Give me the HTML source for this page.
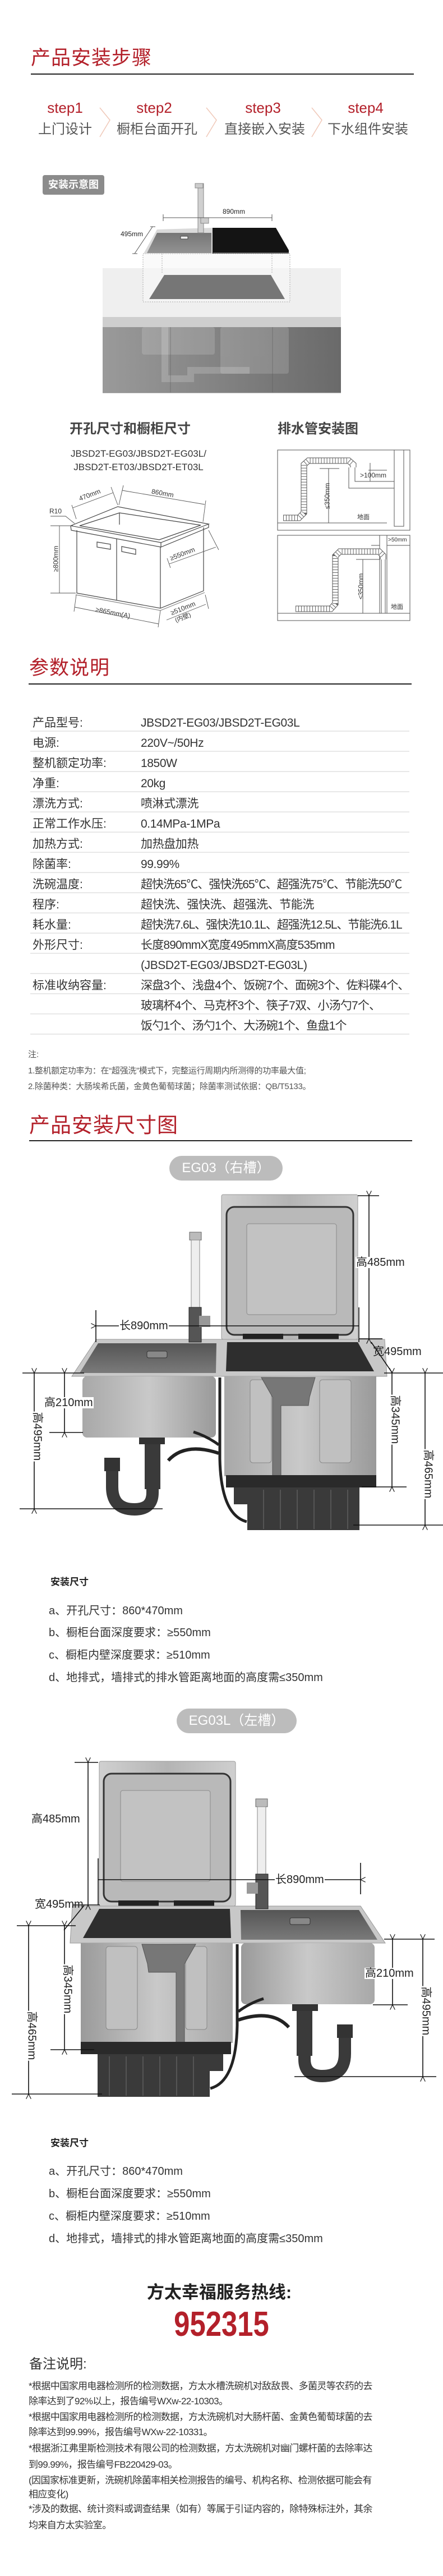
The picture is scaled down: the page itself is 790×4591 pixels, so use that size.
<!DOCTYPE html>
<html><head><meta charset="utf-8">
<style>
*{margin:0;padding:0;box-sizing:border-box}
body{width:790px;height:4591px;position:relative;background:#fff;font-family:"Liberation Sans","Noto Sans CJK SC",sans-serif;color:#333;overflow:hidden}
.t{position:absolute;white-space:nowrap;line-height:1}
.red{color:#b3202a}
.h1{font-size:35px;color:#b3202a;letter-spacing:1px}
.hr{position:absolute;height:1.5px;background:#222}
.c{transform:translateX(-50%)}
.step{font-size:26px;color:#b3202a}
.stepl{font-size:24px;color:#555}
.lab{font-size:21px;color:#333;left:58px}
.val{font-size:21px;color:#333;left:251px;letter-spacing:-0.4px}
.sep{position:absolute;left:54px;width:676px;height:2px;background:#e8e8e8}
.dim{font-size:20px;color:#222;background:#fff;padding:0 1px}
.dimn{font-size:20px;color:#222}
.inst{font-size:20px;color:#333;left:87px}
.note{font-size:17px;color:#333;left:51px;letter-spacing:-0.6px}
</style></head><body>

<svg width="790" height="4591" style="position:absolute;left:0;top:0">
<defs>
<linearGradient id="cab" x1="0" x2="1"><stop offset="0" stop-color="#9a9a9a"/><stop offset="1" stop-color="#6a6a6a"/></linearGradient>
<linearGradient id="lid" x1="0" x2="1"><stop offset="0" stop-color="#cfcfcf"/><stop offset="0.5" stop-color="#b4b4b4"/><stop offset="1" stop-color="#d0d0d0"/></linearGradient>
<linearGradient id="steel" x1="0" x2="1"><stop offset="0" stop-color="#a8a8a8"/><stop offset="0.5" stop-color="#c9c9c9"/><stop offset="1" stop-color="#9a9a9a"/></linearGradient>
<linearGradient id="basin" x1="0" y1="0" x2="0" y2="1"><stop offset="0" stop-color="#555"/><stop offset="1" stop-color="#7a7a7a"/></linearGradient>
<marker id="ar" viewBox="0 0 10 10" refX="0" refY="5" markerWidth="9" markerHeight="9" orient="auto-start-reverse" markerUnits="userSpaceOnUse"><path d="M10,0 L0,5 L10,10" fill="none" stroke="#111" stroke-width="1.3"/></marker>
<g id="prod">
  <!-- lid -->
  <rect x="395" y="2129" width="243" height="258" rx="3" fill="url(#lid)" stroke="#999"/>
  <rect x="404" y="2151" width="226" height="228" rx="14" fill="#b9b9b9" stroke="#333" stroke-width="3"/>
  <rect x="440" y="2181" width="160" height="162" rx="4" fill="#c2c2c2" stroke="#8a8a8a"/>
  <rect x="433" y="2377" width="72" height="10" fill="#222"/><rect x="532" y="2377" width="72" height="10" fill="#222"/>
  <!-- deck -->
  <polygon points="172,2387 686,2387 690,2453 128,2453" fill="#c8c8c8" stroke="#999"/>
  <polygon points="175,2394 386,2394 385,2447 142,2447" fill="url(#basin)"/>
  <rect x="262" y="2408" width="36" height="12" rx="3" fill="#888" stroke="#333"/>
  <polygon points="405,2392 638,2392 667,2444 403,2444" fill="#2e2e2e"/>
  <!-- left bowl -->
  <rect x="147" y="2453" width="238" height="109" rx="8" fill="url(#steel)"/>
  <!-- dishwasher body -->
  <rect x="400" y="2453" width="271" height="178" fill="url(#steel)"/>
  <rect x="446" y="2459" width="38" height="148" rx="5" fill="#c0c0c0" stroke="#888"/>
  <rect x="570" y="2459" width="56" height="148" rx="5" fill="#c0c0c0" stroke="#888"/>
  <polygon points="466,2455 562,2455 552,2490 550,2505 501,2505 501,2667 486,2667 486,2490" fill="#777" stroke="#555"/>
  <rect x="403" y="2629" width="268" height="22" fill="#2a2a2a"/>
  <rect x="441" y="2651" width="200" height="76" fill="#3a3a3a"/>
  <g stroke="#555" stroke-width="2"><line x1="470" y1="2655" x2="470" y2="2725"/><line x1="500" y1="2655" x2="500" y2="2725"/><line x1="530" y1="2655" x2="530" y2="2725"/><line x1="560" y1="2655" x2="560" y2="2725"/><line x1="590" y1="2655" x2="590" y2="2725"/><line x1="620" y1="2655" x2="620" y2="2725"/></g>
  <rect x="417" y="2651" width="30" height="30" fill="#3a3a3a"/>
  <!-- hoses -->
  <path d="M392,2455 L392,2600 Q394,2700 440,2712" fill="none" stroke="#222" stroke-width="5"/>
  <path d="M300,2603 Q330,2570 390,2590" fill="none" stroke="#222" stroke-width="6"/>
  <path d="M345,2552 Q370,2560 390,2575" fill="none" stroke="#222" stroke-width="5"/>
  <!-- trap -->
  <rect x="248" y="2562" width="46" height="12" fill="#333"/>
  <rect x="258" y="2574" width="28" height="80" fill="#3a3a3a"/>
  <path d="M272,2650 L272,2660 Q272,2690 240,2690 Q200,2690 200,2650 L200,2620" fill="none" stroke="#3a3a3a" stroke-width="22"/>
  <rect x="186" y="2598" width="28" height="24" fill="#333"/>
  <!-- faucet -->
  <rect x="338" y="2196" width="21" height="14" fill="#bbb" stroke="#666"/>
  <rect x="341" y="2210" width="15" height="122" fill="#eee" stroke="#888"/>
  <rect x="337" y="2330" width="22" height="62" fill="#555" stroke="#222"/>
  <rect x="355" y="2345" width="20" height="20" fill="#999"/>
</g>
</defs>

<!-- step chevrons -->
<g fill="none" stroke="#f0c8b8" stroke-width="1.5">
<polyline points="178,192 196,214 178,244"/><polyline points="368,192 386,214 368,244"/><polyline points="556,192 574,214 556,244"/>
</g>

<!-- install illustration -->
<rect x="183" y="478" width="425" height="88" fill="#efefef"/>
<rect x="183" y="565" width="425" height="18" fill="#cecece"/>
<rect x="183" y="583" width="425" height="117" fill="url(#cab)"/>
<g fill="#ffffff" opacity="0.15"><rect x="253" y="583" width="130" height="49" rx="4"/><rect x="393" y="583" width="122" height="83" rx="4"/></g>
<path d="M294,583 L294,675 L340,675 L340,660 L445,660" fill="none" stroke="#fff" stroke-opacity="0.18" stroke-width="12"/>
<line x1="304" y1="583" x2="304" y2="700" stroke="#555" stroke-opacity="0.5"/>
<line x1="486" y1="583" x2="486" y2="700" stroke="#555" stroke-opacity="0.5"/>
<line x1="183" y1="700" x2="608" y2="700" stroke="#888"/>
<rect x="255" y="452" width="262" height="86" fill="#f7f7f7" opacity="0.6"/>
<g fill="none" stroke="#aaa" stroke-dasharray="2,2"><rect x="255" y="452" width="262" height="86"/><line x1="289" y1="452" x2="289" y2="487"/><line x1="485" y1="452" x2="485" y2="487"/></g>
<polygon points="293,490 483,490 508,533 266,533" fill="#767676"/>
<polygon points="280,409 379,406 379,452 256,452" fill="#dadada"/>
<polygon points="280,415 377,415 377,451 262,451" fill="url(#basin)" opacity="0.75"/>
<rect x="322" y="421" width="13" height="5" rx="1" fill="#eee" stroke="#444"/>
<polygon points="379,406 492,406 515,446 515,452 379,452" fill="#141414"/>
<line x1="380" y1="451" x2="515" y2="451" stroke="#bbb"/>
<rect x="353" y="327" width="10" height="88" fill="#d0d0d0" stroke="#888"/>
<rect x="348" y="327" width="14" height="8" fill="#ccc" stroke="#888"/>
<rect x="358" y="388" width="14" height="10" fill="#ccc" stroke="#888"/>
<g stroke="#555" stroke-width="1"><line x1="291" y1="388" x2="485" y2="388"/><line x1="291" y1="382" x2="291" y2="394"/><line x1="485" y1="382" x2="485" y2="394"/><line x1="272" y1="404" x2="240" y2="452"/><line x1="268" y1="404" x2="277" y2="404"/><line x1="236" y1="452" x2="245" y2="452"/></g>

<!-- cabinet drawing -->
<g fill="none" stroke="#444" stroke-width="1.2">
<polygon points="126,937 210,903 372,934 287,967"/>
<polyline points="126,937 127,945 287,975 372,940 372,934"/>
<line x1="287" y1="967" x2="287" y2="975"/>
<polygon points="142,937 213,914 358,936 284,962"/>
<line x1="213" y1="914" x2="213" y2="935"/>
<polyline points="137,945 137,1057 286,1084 363,1053 363,940"/>
<line x1="286" y1="975" x2="286" y2="1084"/>
<polyline points="135,1060 286,1088 365,1056" stroke="#888"/>
<line x1="208" y1="960" x2="208" y2="1070"/>
<polygon points="173,966 197,970 197,979 173,975"/>
<polygon points="217,974 242,979 242,988 217,983"/>
</g>
<g fill="none" stroke="#555" stroke-width="0.9">
<line x1="130" y1="905" x2="202" y2="878"/><line x1="128" y1="900" x2="136" y2="925"/><line x1="198" y1="868" x2="210" y2="900"/>
<line x1="218" y1="874" x2="365" y2="899"/><line x1="220" y1="865" x2="212" y2="900"/><line x1="367" y1="892" x2="362" y2="930"/>
<polyline points="90,920 117,920 133,933"/>
<line x1="106" y1="937" x2="106" y2="1057"/><line x1="90" y1="937" x2="130" y2="937"/><line x1="90" y1="1057" x2="135" y2="1057"/>
<line x1="302" y1="1005" x2="385" y2="975"/><line x1="372" y1="945" x2="390" y2="980"/><line x1="298" y1="995" x2="304" y2="1012"/>
<line x1="133" y1="1082" x2="283" y2="1112"/><line x1="136" y1="1060" x2="132" y2="1090"/><line x1="286" y1="1088" x2="282" y2="1118"/>
<line x1="297" y1="1105" x2="367" y2="1077"/><line x1="366" y1="1060" x2="372" y2="1085"/>
</g>

<!-- drain box 1 -->
<g fill="none" stroke="#555" stroke-width="1">
<rect x="495" y="802" width="236" height="143"/>
<line x1="495" y1="932" x2="690" y2="932"/>
<polyline points="703,802 703,938 720,938 720,802"/>
<polyline points="622,833 622,870 703,870"/><polyline points="633,833 633,858 703,858"/>
<line x1="586" y1="835" x2="586" y2="932"/><line x1="570" y1="835" x2="605" y2="835"/>
<line x1="657" y1="838" x2="690" y2="838"/><line x1="660" y1="825" x2="660" y2="858"/>
</g>
<g fill="none">
<path d="M505,923 L533,923 L542,914 L542,828 L550,821 L622,821 L630,828 L630,833" stroke="#555" stroke-width="11"/>
<path d="M505,923 L533,923 L542,914 L542,828 L550,821 L622,821 L630,828 L630,833" stroke="#fff" stroke-width="9"/>
<path d="M505,923 L533,923 L542,914 L542,828 L550,821 L622,821 L630,828" stroke="#666" stroke-width="9" stroke-dasharray="1,4"/>
</g>
<!-- drain box 2 -->
<g fill="none" stroke="#555" stroke-width="1">
<rect x="495" y="954" width="236" height="152"/>
<line x1="495" y1="1093" x2="731" y2="1093"/>
<line x1="677" y1="954" x2="677" y2="1093"/><line x1="690" y1="954" x2="690" y2="1093"/>
<line x1="680" y1="997" x2="680" y2="1093"/><line x1="687" y1="997" x2="687" y2="1093"/>
<line x1="647" y1="997" x2="647" y2="1093"/><line x1="635" y1="997" x2="677" y2="997"/>
<line x1="662" y1="972" x2="677" y2="972"/><line x1="690" y1="972" x2="731" y2="972"/>
</g>
<g fill="none">
<path d="M527,1085 L590,1085 L598,1076 L598,991 L606,983 L676,983 L683,990 L683,997" stroke="#555" stroke-width="11"/>
<path d="M527,1085 L590,1085 L598,1076 L598,991 L606,983 L676,983 L683,990 L683,997" stroke="#fff" stroke-width="9"/>
<path d="M527,1085 L590,1085 L598,1076 L598,991 L606,983 L676,983 L683,990" stroke="#666" stroke-width="9" stroke-dasharray="1,4"/>
</g>

<!-- EG03 product -->
<use href="#prod"/>
<g stroke="#111" stroke-width="1.6" fill="none">
<line x1="658" y1="2131" x2="658" y2="2386" marker-start="url(#ar)" marker-end="url(#ar)"/>
<line x1="638" y1="2131" x2="676" y2="2131"/><line x1="640" y1="2386" x2="682" y2="2386"/>
<line x1="171" y1="2363" x2="640" y2="2363" marker-start="url(#ar)"/>
<line x1="171" y1="2335" x2="171" y2="2392"/><line x1="640" y1="2330" x2="640" y2="2392"/>
<line x1="662" y1="2392" x2="699" y2="2446"/>
<line x1="40" y1="2447" x2="150" y2="2447"/><line x1="685" y1="2447" x2="790" y2="2447"/>
<line x1="115" y1="2447" x2="115" y2="2553" marker-start="url(#ar)" marker-end="url(#ar)"/><line x1="88" y1="2553" x2="148" y2="2553"/>
<line x1="61" y1="2447" x2="61" y2="2689" marker-start="url(#ar)" marker-end="url(#ar)"/><line x1="35" y1="2689" x2="290" y2="2689"/>
<line x1="699" y1="2447" x2="699" y2="2650" marker-start="url(#ar)" marker-end="url(#ar)"/><line x1="645" y1="2650" x2="725" y2="2650"/>
<line x1="758" y1="2447" x2="758" y2="2718" marker-start="url(#ar)" marker-end="url(#ar)"/><line x1="630" y1="2718" x2="790" y2="2718"/>
</g>

<!-- EG03L product -->
<use href="#prod" transform="translate(815,1010) scale(-1,1)"/>
<g stroke="#111" stroke-width="1.6" fill="none">
<line x1="157" y1="3141" x2="157" y2="3395" marker-start="url(#ar)" marker-end="url(#ar)"/>
<line x1="133" y1="3141" x2="175" y2="3141"/><line x1="130" y1="3395" x2="178" y2="3395"/>
<line x1="175" y1="3350" x2="643" y2="3350" marker-end="url(#ar)"/>
<line x1="175" y1="3312" x2="175" y2="3395"/><line x1="643" y1="3320" x2="643" y2="3376"/>
<line x1="150" y1="3396" x2="114" y2="3440"/>
<line x1="30" y1="3432" x2="135" y2="3432"/><line x1="685" y1="3456" x2="775" y2="3456"/>
<line x1="115" y1="3432" x2="115" y2="3653" marker-start="url(#ar)" marker-end="url(#ar)"/><line x1="90" y1="3653" x2="168" y2="3653"/>
<line x1="51" y1="3432" x2="51" y2="3732" marker-start="url(#ar)" marker-end="url(#ar)"/><line x1="21" y1="3732" x2="182" y2="3732"/>
<line x1="700" y1="3456" x2="700" y2="3573" marker-start="url(#ar)" marker-end="url(#ar)"/><line x1="665" y1="3573" x2="727" y2="3573"/>
<line x1="754" y1="3456" x2="754" y2="3701" marker-start="url(#ar)" marker-end="url(#ar)"/><line x1="525" y1="3701" x2="778" y2="3701"/>
</g>
</svg>

<!-- Section 1 -->
<div class="t h1" style="left:55px;top:86px">产品安装步骤</div>
<div class="hr" style="left:55px;top:131px;width:683px"></div>
<div class="t step c" style="left:116px;top:179px">step1</div>
<div class="t step c" style="left:275px;top:179px">step2</div>
<div class="t step c" style="left:469px;top:179px">step3</div>
<div class="t step c" style="left:652px;top:179px">step4</div>
<div class="t stepl c" style="left:116px;top:219px">上门设计</div>
<div class="t stepl c" style="left:280px;top:219px">橱柜台面开孔</div>
<div class="t stepl c" style="left:472px;top:219px">直接嵌入安装</div>
<div class="t stepl c" style="left:656px;top:219px">下水组件安装</div>
<div style="position:absolute;left:76px;top:312px;width:110px;height:35px;background:#8b8b8b;border-radius:4px;color:#fff;font-size:18px;line-height:35px;text-align:center;font-weight:bold">安装示意图</div>
<div class="t" style="left:397px;top:371px;font-size:12px;color:#222">890mm</div>
<div class="t" style="left:215px;top:411px;font-size:12px;color:#222">495mm</div>

<div class="t c" style="left:232px;top:753px;font-size:24px;font-weight:bold;color:#444">开孔尺寸和橱柜尺寸</div>
<div class="t c" style="left:567px;top:753px;font-size:24px;font-weight:bold;color:#444">排水管安装图</div>
<div class="t c" style="left:247px;top:800px;font-size:17px;color:#333">JBSD2T-EG03/JBSD2T-EG03L/</div>
<div class="t c" style="left:247px;top:824px;font-size:17px;color:#333">JBSD2T-ET03/JBSD2T-ET03L</div>
<div class="t" style="left:140px;top:876px;font-size:12px;transform:rotate(-21deg)">470mm</div>
<div class="t" style="left:270px;top:873px;font-size:12px;transform:rotate(10deg)">860mm</div>
<div class="t" style="left:88px;top:905px;font-size:12px">R10</div>
<div class="t" style="left:76px;top:990px;font-size:12px;transform:rotate(-90deg)">≥800mm</div>
<div class="t" style="left:302px;top:981px;font-size:12px;transform:rotate(-21deg)">≥550mm</div>
<div class="t" style="left:170px;top:1086px;font-size:12px;transform:rotate(11deg)">≥865mm(A)</div>
<div class="t" style="left:303px;top:1078px;font-size:12px;transform:rotate(-22deg)">≥510mm</div>
<div class="t" style="left:312px;top:1096px;font-size:11px;transform:rotate(-22deg)">(内壁)</div>
<div class="t" style="left:560px;top:878px;font-size:12px;transform:rotate(-90deg)">≤350mm</div>
<div class="t" style="left:642px;top:841px;font-size:12px">&gt;100mm</div>
<div class="t" style="left:637px;top:917px;font-size:11px">地面</div>
<div class="t" style="left:620px;top:1039px;font-size:12px;transform:rotate(-90deg)">≤350mm</div>
<div class="t" style="left:692px;top:958px;font-size:10px">&gt;50mm</div>
<div class="t" style="left:697px;top:1077px;font-size:11px">地面</div>

<!-- Params -->
<div class="t h1" style="left:52px;top:1173px">参数说明</div>
<div class="hr" style="left:51px;top:1218px;width:683px"></div>

<div class="t lab" style="top:1278px">产品型号:</div><div class="t val" style="top:1278px">JBSD2T-EG03/JBSD2T-EG03L</div><div class="sep" style="top:1302px"></div>
<div class="t lab" style="top:1314px">电源:</div><div class="t val" style="top:1314px">220V~/50Hz</div><div class="sep" style="top:1338px"></div>
<div class="t lab" style="top:1350px">整机额定功率:</div><div class="t val" style="top:1350px">1850W</div><div class="sep" style="top:1374px"></div>
<div class="t lab" style="top:1386px">净重:</div><div class="t val" style="top:1386px">20kg</div><div class="sep" style="top:1410px"></div>
<div class="t lab" style="top:1422px">漂洗方式:</div><div class="t val" style="top:1422px">喷淋式漂洗</div><div class="sep" style="top:1446px"></div>
<div class="t lab" style="top:1458px">正常工作水压:</div><div class="t val" style="top:1458px">0.14MPa-1MPa</div><div class="sep" style="top:1482px"></div>
<div class="t lab" style="top:1494px">加热方式:</div><div class="t val" style="top:1494px">加热盘加热</div><div class="sep" style="top:1518px"></div>
<div class="t lab" style="top:1530px">除菌率:</div><div class="t val" style="top:1530px">99.99%</div><div class="sep" style="top:1554px"></div>
<div class="t lab" style="top:1566px">洗碗温度:</div><div class="t val" style="top:1566px;letter-spacing:-1px">超快洗65℃、强快洗65℃、超强洗75℃、节能洗50℃</div><div class="sep" style="top:1590px"></div>
<div class="t lab" style="top:1602px">程序:</div><div class="t val" style="top:1602px">超快洗、强快洗、超强洗、节能洗</div><div class="sep" style="top:1626px"></div>
<div class="t lab" style="top:1638px">耗水量:</div><div class="t val" style="top:1638px;letter-spacing:-1.1px">超快洗7.6L、强快洗10.1L、超强洗12.5L、节能洗6.1L</div><div class="sep" style="top:1662px"></div>
<div class="t lab" style="top:1674px">外形尺寸:</div><div class="t val" style="top:1674px;letter-spacing:-0.8px">长度890mmX宽度495mmX高度535mm</div><div class="sep" style="top:1698px"></div>
<div class="t val" style="top:1710px">(JBSD2T-EG03/JBSD2T-EG03L)</div><div class="sep" style="top:1734px"></div>
<div class="t lab" style="top:1746px">标准收纳容量:</div><div class="t val" style="top:1746px;letter-spacing:-0.8px">深盘3个、浅盘4个、饭碗7个、面碗3个、佐料碟4个、</div><div class="sep" style="top:1770px"></div>
<div class="t val" style="top:1782px;letter-spacing:-0.8px">玻璃杯4个、马克杯3个、筷子7双、小汤勺7个、</div><div class="sep" style="top:1806px"></div>
<div class="t val" style="top:1818px;letter-spacing:-0.8px">饭勺1个、汤勺1个、大汤碗1个、鱼盘1个</div><div class="sep" style="top:1842px"></div>

<div class="t" style="left:50px;top:1872px;font-size:15px;color:#555">注:</div>
<div class="t" style="left:50px;top:1901px;font-size:15px;color:#555;letter-spacing:-0.3px">1.整机额定功率为：在“超强洗”模式下，完整运行周期内所测得的功率最大值;</div>
<div class="t" style="left:50px;top:1929px;font-size:15px;color:#555;letter-spacing:-0.3px">2.除菌种类：大肠埃希氏菌，金黄色葡萄球菌；除菌率测试依据：QB/T5133。</div>

<div class="t h1" style="left:52px;top:1987px;font-size:37px">产品安装尺寸图</div>
<div class="hr" style="left:52px;top:2032px;width:683px"></div>
<div style="position:absolute;left:302px;top:2060px;width:202px;height:44px;background:#bcbcbc;border-radius:22px;color:#fff;font-size:24px;line-height:44px;text-align:center">EG03（右槽）</div>

<!-- EG03 labels -->
<div class="t dim" style="left:634px;top:2240px">高485mm</div>
<div class="t dim" style="left:212px;top:2353px">长890mm</div>
<div class="t dimn" style="left:665px;top:2399px">宽495mm</div>
<div class="t dim" style="left:78px;top:2490px">高210mm</div>
<div class="t dim" style="left:22px;top:2550px;transform:rotate(90deg)">高495mm</div>
<div class="t dim" style="left:660px;top:2520px;transform:rotate(90deg)">高345mm</div>
<div class="t dim" style="left:719px;top:2617px;transform:rotate(90deg)">高465mm</div>

<div class="t" style="left:90px;top:2811px;font-size:17px;font-weight:bold;color:#222">安装尺寸</div>
<div class="t inst" style="top:2861px">a、开孔尺寸：860*470mm</div>
<div class="t inst" style="top:2900px">b、橱柜台面深度要求：≥550mm</div>
<div class="t inst" style="top:2940px">c、橱柜内壁深度要求：≥510mm</div>
<div class="t inst" style="top:2980px">d、地排式，墙排式的排水管距离地面的高度需≤350mm</div>

<div style="position:absolute;left:315px;top:3045px;width:214px;height:44px;background:#bcbcbc;border-radius:22px;color:#fff;font-size:24px;line-height:44px;text-align:center">EG03L（左槽）</div>

<!-- EG03L labels -->
<div class="t dim" style="left:55px;top:3232px">高485mm</div>
<div class="t dim" style="left:490px;top:3340px">长890mm</div>
<div class="t dimn" style="left:62px;top:3384px">宽495mm</div>
<div class="t dim" style="left:650px;top:3507px">高210mm</div>
<div class="t dim" style="left:715px;top:3574px;transform:rotate(90deg)">高495mm</div>
<div class="t dim" style="left:76px;top:3535px;transform:rotate(90deg)">高345mm</div>
<div class="t dim" style="left:12px;top:3618px;transform:rotate(90deg)">高465mm</div>

<div class="t" style="left:90px;top:3811px;font-size:17px;font-weight:bold;color:#222">安装尺寸</div>
<div class="t inst" style="top:3860px">a、开孔尺寸：860*470mm</div>
<div class="t inst" style="top:3900px">b、橱柜台面深度要求：≥550mm</div>
<div class="t inst" style="top:3940px">c、橱柜内壁深度要求：≥510mm</div>
<div class="t inst" style="top:3980px">d、地排式，墙排式的排水管距离地面的高度需≤350mm</div>

<div class="t c" style="left:391px;top:4070px;font-size:31px;font-weight:bold;color:#222">方太幸福服务热线:</div>
<div class="t" style="left:395px;top:4112px;font-size:62px;font-weight:bold;color:#b3202a;transform:translateX(-50%) scaleX(0.82)">952315</div>

<div class="t" style="left:52px;top:4202px;font-size:24px;color:#333">备注说明:</div>
<div class="t note" style="top:4244px">*根据中国家用电器检测所的检测数据，方太水槽洗碗机对敌敌畏、多菌灵等农药的去</div>
<div class="t note" style="top:4271px">除率达到了92%以上，报告编号WXw-22-10303。</div>
<div class="t note" style="top:4299px">*根据中国家用电器检测所的检测数据，方太洗碗机对大肠杆菌、金黄色葡萄球菌的去</div>
<div class="t note" style="top:4326px">除率达到99.99%，报告编号WXw-22-10331。</div>
<div class="t note" style="top:4355px">*根据浙江弗里斯检测技术有限公司的检测数据，方太洗碗机对幽门螺杆菌的去除率达</div>
<div class="t note" style="top:4384px">到99.99%，报告编号FB220429-03。</div>
<div class="t note" style="top:4412px">(因国家标准更新，洗碗机除菌率相关检测报告的编号、机构名称、检测依据可能会有</div>
<div class="t note" style="top:4437px">相应变化)</div>
<div class="t note" style="top:4463px">*涉及的数据、统计资料或调查结果（如有）等属于引证内容的，除特殊标注外，其余</div>
<div class="t note" style="top:4492px">均来自方太实验室。</div>
</body></html>
